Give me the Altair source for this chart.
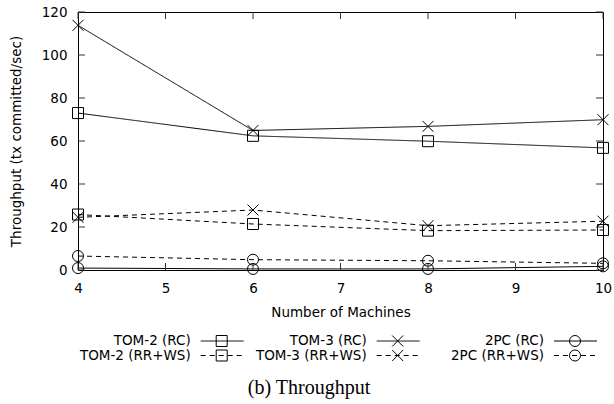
import altair as alt
import pandas as pd

# Throughput vs. cluster size for each protocol / isolation level
machines = [4, 6, 8, 10]
tom2_rc = [73.0, 62.4, 59.9, 56.8]
tom3_rc = [113.8, 64.9, 66.8, 69.9]
pc2_rc = [0.9, 0.5, 0.5, 1.7]
tom2_rrws = [25.8, 21.4, 18.3, 18.6]
tom3_rrws = [24.5, 27.9, 20.6, 22.7]
pc2_rrws = [6.5, 4.8, 4.3, 3.1]

series_names = ["TOM-2 (RC)", "TOM-3 (RC)", "2PC (RC)",
                "TOM-2 (RR+WS)", "TOM-3 (RR+WS)", "2PC (RR+WS)"]
series_values = [tom2_rc, tom3_rc, pc2_rc, tom2_rrws, tom3_rrws, pc2_rrws]
protocols = ["TOM-2", "TOM-3", "2PC", "TOM-2", "TOM-3", "2PC"]
modes = ["RC", "RC", "RC", "RR+WS", "RR+WS", "RR+WS"]

x_ticks = [4, 5, 6, 7, 8, 9, 10]
y_ticks = [0, 20, 40, 60, 80, 100, 120]

rows = []
for name, vals, proto, mode in zip(series_names, series_values, protocols, modes):
    for m, v in zip(machines, vals):
        rows.append({"machines": m, "throughput": v, "series": name,
                     "protocol": proto, "mode": mode})
df = pd.DataFrame(rows)

W, H = 525, 258
FONT = "DejaVu Sans"
FS = 13.5
TICK = 7
X_SHAPE = "M-1,-1L1,1M-1,1L1,-1"
MARK = 121

xs = alt.Scale(domain=[4, 10], nice=False, zero=False)
ys = alt.Scale(domain=[0, 120], nice=False)
dash_scale = alt.Scale(domain=["RC", "RR+WS"], range=[[1, 0], [5, 4]])
shape_scale = alt.Scale(domain=["TOM-2", "TOM-3", "2PC"],
                        range=["square", X_SHAPE, "circle"])
shape_of = dict(zip(["TOM-2", "TOM-3", "2PC"], ["square", X_SHAPE, "circle"]))

x_enc = alt.X("machines:Q", scale=xs,
              axis=alt.Axis(values=x_ticks, format="d", title="Number of Machines",
                            ticks=False, tickSize=0, domain=False, grid=False,
                            labelFlush=False, labelPadding=11, labelFont=FONT,
                            labelFontSize=FS, labelColor="black",
                            titleFont=FONT, titleFontSize=FS,
                            titleFontWeight="normal", titleColor="black",
                            titlePadding=11))
y_enc = alt.Y("throughput:Q", scale=ys,
              axis=alt.Axis(values=y_ticks, format="d",
                            title="Throughput (tx committed/sec)",
                            ticks=False, tickSize=0, domain=False, grid=False,
                            labelFlush=False, labelPadding=11, labelFont=FONT,
                            labelFontSize=FS, labelColor="black",
                            titleFont=FONT, titleFontSize=FS,
                            titleFontWeight="normal", titleColor="black",
                            titlePadding=18))

lines = alt.Chart(df).mark_line(color="black", strokeWidth=1).encode(
    x=x_enc, y=y_enc,
    detail="series:N",
    strokeDash=alt.StrokeDash("mode:N", scale=dash_scale, legend=None),
)

points = alt.Chart(df).mark_point(
    filled=False, color="black", strokeWidth=1, size=MARK, opacity=1
).encode(
    x=alt.X("machines:Q", scale=xs),
    y=alt.Y("throughput:Q", scale=ys),
    shape=alt.Shape("protocol:N", scale=shape_scale, legend=None),
)

# inward tick marks on all four sides
xt = pd.DataFrame({"v": x_ticks})
yt = pd.DataFrame({"v": y_ticks})
tick_style = dict(color="#333333", strokeWidth=1)
ticks = [
    alt.Chart(xt).mark_rule(**tick_style).encode(
        x=alt.X("v:Q", scale=xs), y=alt.value(H), y2=alt.value(H - TICK)),
    alt.Chart(xt).mark_rule(**tick_style).encode(
        x=alt.X("v:Q", scale=xs), y=alt.value(0), y2=alt.value(TICK)),
    alt.Chart(yt).mark_rule(**tick_style).encode(
        y=alt.Y("v:Q", scale=ys), x=alt.value(0), x2=alt.value(TICK)),
    alt.Chart(yt).mark_rule(**tick_style).encode(
        y=alt.Y("v:Q", scale=ys), x=alt.value(W - TICK), x2=alt.value(W)),
]

# key below the plot: label, then line sample with the marker
one = pd.DataFrame({"k": [0]})
key_layers = []
col_right = [112.7, 288.7, 466.0]
row_y = [329.0, 343.5]
for i, (name, proto, mode) in enumerate(zip(series_names, protocols, modes)):
    c, r = i % 3, i // 3
    lx, ly = col_right[c], row_y[r]
    key_layers.append(
        alt.Chart(one).mark_text(align="right", baseline="middle", font=FONT,
                                 fontSize=FS, color="black").encode(
            x=alt.value(lx), y=alt.value(ly), text=alt.value(name)))
    key_layers.append(
        alt.Chart(one).mark_rule(color="black", strokeWidth=1,
                                 strokeDash=[1, 0] if mode == "RC" else [5, 4]).encode(
            x=alt.value(lx + 10), x2=alt.value(lx + 53), y=alt.value(ly)))
    key_layers.append(
        alt.Chart(one).mark_point(filled=False, color="black", strokeWidth=1,
                                  opacity=1, size=MARK,
                                  shape=shape_of[proto]).encode(
            x=alt.value(lx + 31), y=alt.value(ly)))

caption = alt.Chart(one).mark_text(align="center", baseline="middle",
                                   font="Liberation Serif", fontSize=20,
                                   color="black").encode(
    x=alt.value(231), y=alt.value(376), text=alt.value("(b) Throughput"))

chart = alt.layer(lines, points, *ticks, *key_layers, caption).properties(
    width=W, height=H,
    autosize=alt.AutoSizeParams(type="none"),
    padding={"left": 78, "top": 12, "right": 11, "bottom": 134},
    background="white",
).configure_view(stroke="black", strokeWidth=1)

chart.save("out.html", embed_options={"renderer": "svg", "actions": False})
